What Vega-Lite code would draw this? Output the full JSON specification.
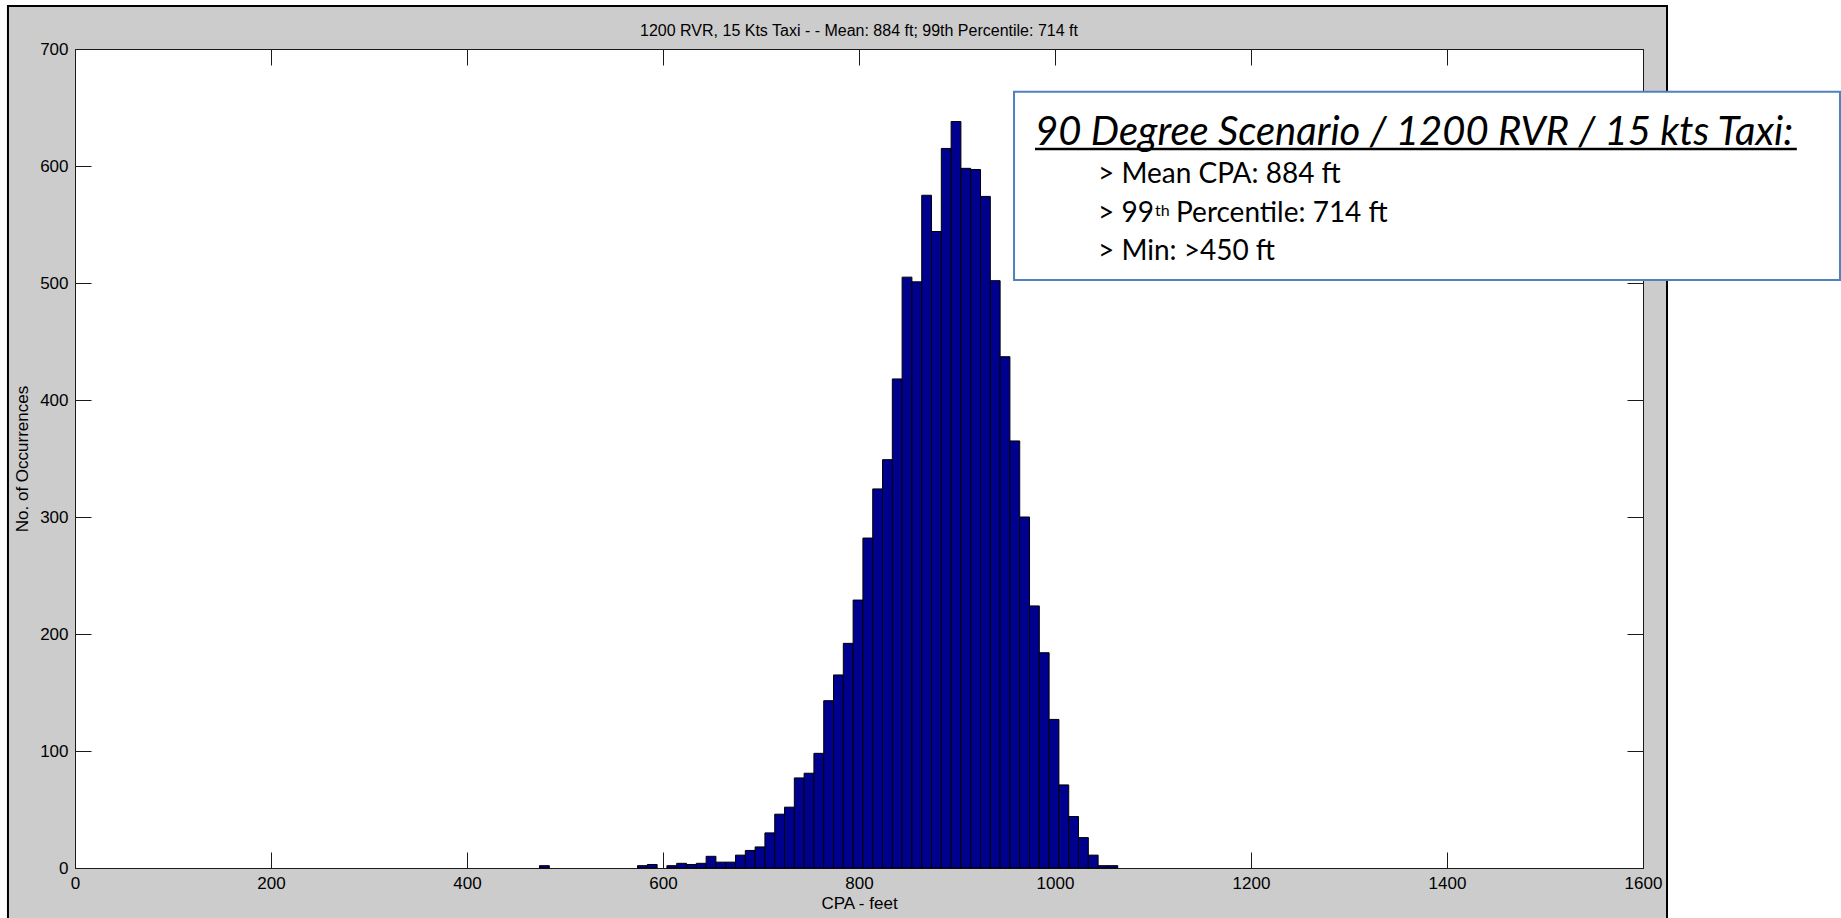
{
  "$schema": "https://vega.github.io/schema/vega-lite/v6.json",
  "width": 1568,
  "height": 819,
  "autosize": {"type": "none"},
  "padding": {"left": 75, "top": 49, "right": 198, "bottom": 50},
  "background": "#CCCCCC",
  "config": {
    "view": {"fill": "#FFFFFF", "stroke": null},
    "axis": {
      "labelFont": "Liberation Sans",
      "labelFontSize": 17,
      "labelColor": "#000000",
      "titleFont": "Liberation Sans",
      "titleFontSize": 17,
      "titleFontWeight": "normal",
      "titleColor": "#000000",
      "domainColor": "#1a1a1a",
      "tickColor": "#1a1a1a",
      "domainWidth": 1,
      "tickWidth": 1,
      "grid": false
    }
  },
  "data": {
    "values": [
      {"lo": 474, "hi": 484, "count": 2},
      {"lo": 574, "hi": 584, "count": 2},
      {"lo": 584, "hi": 594, "count": 3},
      {"lo": 604, "hi": 614, "count": 2},
      {"lo": 614, "hi": 624, "count": 4},
      {"lo": 624, "hi": 634, "count": 3},
      {"lo": 634, "hi": 644, "count": 4},
      {"lo": 644, "hi": 654, "count": 10},
      {"lo": 654, "hi": 664, "count": 5},
      {"lo": 664, "hi": 674, "count": 5},
      {"lo": 674, "hi": 684, "count": 11},
      {"lo": 684, "hi": 694, "count": 15},
      {"lo": 694, "hi": 704, "count": 18},
      {"lo": 704, "hi": 714, "count": 30},
      {"lo": 714, "hi": 724, "count": 46},
      {"lo": 724, "hi": 734, "count": 52},
      {"lo": 734, "hi": 744, "count": 77},
      {"lo": 744, "hi": 754, "count": 81},
      {"lo": 754, "hi": 764, "count": 98},
      {"lo": 764, "hi": 774, "count": 143},
      {"lo": 774, "hi": 784, "count": 165},
      {"lo": 784, "hi": 794, "count": 192},
      {"lo": 794, "hi": 804, "count": 229},
      {"lo": 804, "hi": 814, "count": 282},
      {"lo": 814, "hi": 824, "count": 324},
      {"lo": 824, "hi": 834, "count": 349},
      {"lo": 834, "hi": 844, "count": 418},
      {"lo": 844, "hi": 854, "count": 505},
      {"lo": 854, "hi": 864, "count": 501},
      {"lo": 864, "hi": 874, "count": 575},
      {"lo": 874, "hi": 884, "count": 544},
      {"lo": 884, "hi": 894, "count": 615},
      {"lo": 894, "hi": 904, "count": 638},
      {"lo": 904, "hi": 914, "count": 598},
      {"lo": 914, "hi": 924, "count": 597},
      {"lo": 924, "hi": 934, "count": 574},
      {"lo": 934, "hi": 944, "count": 502},
      {"lo": 944, "hi": 954, "count": 437},
      {"lo": 954, "hi": 964, "count": 365},
      {"lo": 964, "hi": 974, "count": 300},
      {"lo": 974, "hi": 984, "count": 224},
      {"lo": 984, "hi": 994, "count": 184},
      {"lo": 994, "hi": 1004, "count": 127},
      {"lo": 1004, "hi": 1014, "count": 71},
      {"lo": 1014, "hi": 1024, "count": 44},
      {"lo": 1024, "hi": 1034, "count": 26},
      {"lo": 1034, "hi": 1044, "count": 11},
      {"lo": 1044, "hi": 1054, "count": 2},
      {"lo": 1054, "hi": 1064, "count": 2}
    ]
  },
  "layer": [
    {
      "data": {"values": [{}]},
      "mark": {"type": "rect", "fill": "#FFFFFF"},
      "encoding": {
        "x": {"datum": 1624.5, "type": "quantitative", "axis": null},
        "x2": {"datum": 1900},
        "y": {"datum": -100, "type": "quantitative", "axis": null},
        "y2": {"datum": 800}
      }
    },
    {
      "data": {"values": [{}]},
      "mark": {"type": "rect", "fill": "#FFFFFF"},
      "encoding": {
        "x": {"datum": -200, "type": "quantitative", "axis": null},
        "x2": {"datum": -68.4},
        "y": {"datum": -100, "type": "quantitative", "axis": null},
        "y2": {"datum": 800}
      }
    },
    {
      "data": {"values": [{}]},
      "mark": {"type": "rect", "fill": "#FFFFFF"},
      "encoding": {
        "x": {"datum": -200, "type": "quantitative", "axis": null},
        "x2": {"datum": 1900},
        "y": {"datum": 736.8, "type": "quantitative", "axis": null},
        "y2": {"datum": 800}
      }
    },
    {
      "data": {"values": [{}]},
      "mark": {"type": "rect", "filled": false, "stroke": "#000000", "strokeWidth": 2},
      "encoding": {
        "x": {"datum": -68.4, "type": "quantitative", "axis": null},
        "x2": {"datum": 1624.5},
        "y": {"datum": -100, "type": "quantitative", "axis": null},
        "y2": {"datum": 736.8}
      }
    },
    {
      "mark": {"type": "rect", "fill": "#00008F", "stroke": "#000000", "strokeWidth": 1},
      "encoding": {
        "x": {
          "field": "lo",
          "type": "quantitative",
          "scale": {"domain": [0, 1600], "nice": false, "zero": false},
          "axis": {
            "orient": "bottom",
            "values": [0, 200, 400, 600, 800, 1000, 1200, 1400, 1600],
            "format": "d",
            "tickSize": -16,
            "labelPadding": 23,
            "labelFlush": false,
            "labelOverlap": false,
            "title": "CPA - feet",
            "titlePadding": 4
          }
        },
        "x2": {"field": "hi"},
        "y": {
          "field": "count",
          "type": "quantitative",
          "scale": {"domain": [0, 700], "nice": false},
          "axis": {
            "orient": "left",
            "values": [0, 100, 200, 300, 400, 500, 600, 700],
            "format": "d",
            "tickSize": -16,
            "labelPadding": 23,
            "labelFlush": false,
            "labelOverlap": false,
            "title": "No. of Occurrences",
            "titlePadding": 8
          }
        },
        "y2": {"datum": 0}
      }
    },
    {
      "mark": {"type": "point", "opacity": 0},
      "encoding": {
        "x": {
          "field": "lo",
          "type": "quantitative",
          "scale": {"domain": [0, 1600], "nice": false, "zero": false},
          "axis": {
            "orient": "top",
            "values": [0, 200, 400, 600, 800, 1000, 1200, 1400, 1600],
            "tickSize": -16,
            "labels": false,
            "title": null
          }
        },
        "y": {
          "field": "count",
          "type": "quantitative",
          "scale": {"domain": [0, 700], "nice": false},
          "axis": {
            "orient": "right",
            "values": [0, 100, 200, 300, 400, 500, 600, 700],
            "tickSize": -16,
            "labels": false,
            "title": null
          }
        }
      }
    },
    {
      "data": {"values": [{}]},
      "mark": {"type": "text", "text": "1200 RVR, 15 Kts Taxi - - Mean: 884 ft; 99th Percentile: 714 ft", "align": "center", "baseline": "alphabetic", "font": "Liberation Sans", "fontSize": 16, "fill": "#000000"},
      "encoding": {
        "x": {"datum": 800, "type": "quantitative", "axis": null},
        "y": {"datum": 711.3, "type": "quantitative", "axis": null}
      }
    },
    {
      "data": {"values": [{}]},
      "mark": {"type": "rect", "fill": "#FFFFFF", "stroke": "#4F81BD", "strokeWidth": 2},
      "encoding": {
        "x": {"datum": 958.2, "type": "quantitative", "axis": null},
        "x2": {"datum": 1801},
        "y": {"datum": 663.5, "type": "quantitative", "axis": null},
        "y2": {"datum": 502.6}
      }
    },
    {
      "data": {"values": [{}]},
      "mark": {"type": "text", "text": "90 Degree Scenario / 1200 RVR / 15 kts Taxi:", "align": "left", "baseline": "alphabetic", "font": "Lato", "fontStyle": "italic", "fontSize": 40, "fill": "#000000"},
      "encoding": {
        "x": {"datum": 979.6, "type": "quantitative", "axis": null},
        "y": {"datum": 617.9, "type": "quantitative", "axis": null}
      }
    },
    {
      "data": {"values": [{}]},
      "mark": {"type": "rule", "stroke": "#000000", "strokeWidth": 2.5},
      "encoding": {
        "x": {"datum": 979.6, "type": "quantitative", "axis": null},
        "x2": {"datum": 1757},
        "y": {"datum": 614.5, "type": "quantitative", "axis": null}
      }
    },
    {
      "data": {"values": [{}]},
      "mark": {"type": "text", "text": "> Mean CPA: 884 ft", "align": "left", "baseline": "alphabetic", "font": "Lato", "fontSize": 28, "fill": "#000000"},
      "encoding": {
        "x": {"datum": 1043.9, "type": "quantitative", "axis": null},
        "y": {"datum": 585.5, "type": "quantitative", "axis": null}
      }
    },
    {
      "data": {"values": [{}]},
      "mark": {"type": "text", "text": "> 99", "align": "left", "baseline": "alphabetic", "font": "Lato", "fontSize": 28, "fill": "#000000"},
      "encoding": {
        "x": {"datum": 1043.9, "type": "quantitative", "axis": null},
        "y": {"datum": 552.1, "type": "quantitative", "axis": null}
      }
    },
    {
      "data": {"values": [{}]},
      "mark": {"type": "text", "text": "th", "align": "left", "baseline": "alphabetic", "font": "Lato", "fontSize": 16, "fill": "#000000"},
      "encoding": {
        "x": {"datum": 1102, "type": "quantitative", "axis": null},
        "y": {"datum": 557.5, "type": "quantitative", "axis": null}
      }
    },
    {
      "data": {"values": [{}]},
      "mark": {"type": "text", "text": "Percentile: 714 ft", "align": "left", "baseline": "alphabetic", "font": "Lato", "fontSize": 28, "fill": "#000000"},
      "encoding": {
        "x": {"datum": 1123.5, "type": "quantitative", "axis": null},
        "y": {"datum": 552.1, "type": "quantitative", "axis": null}
      }
    },
    {
      "data": {"values": [{}]},
      "mark": {"type": "text", "text": "> Min: >450 ft", "align": "left", "baseline": "alphabetic", "font": "Lato", "fontSize": 28, "fill": "#000000"},
      "encoding": {
        "x": {"datum": 1043.9, "type": "quantitative", "axis": null},
        "y": {"datum": 519.7, "type": "quantitative", "axis": null}
      }
    }
  ],
  "resolve": {"axis": {"x": "independent", "y": "independent"}}
}
